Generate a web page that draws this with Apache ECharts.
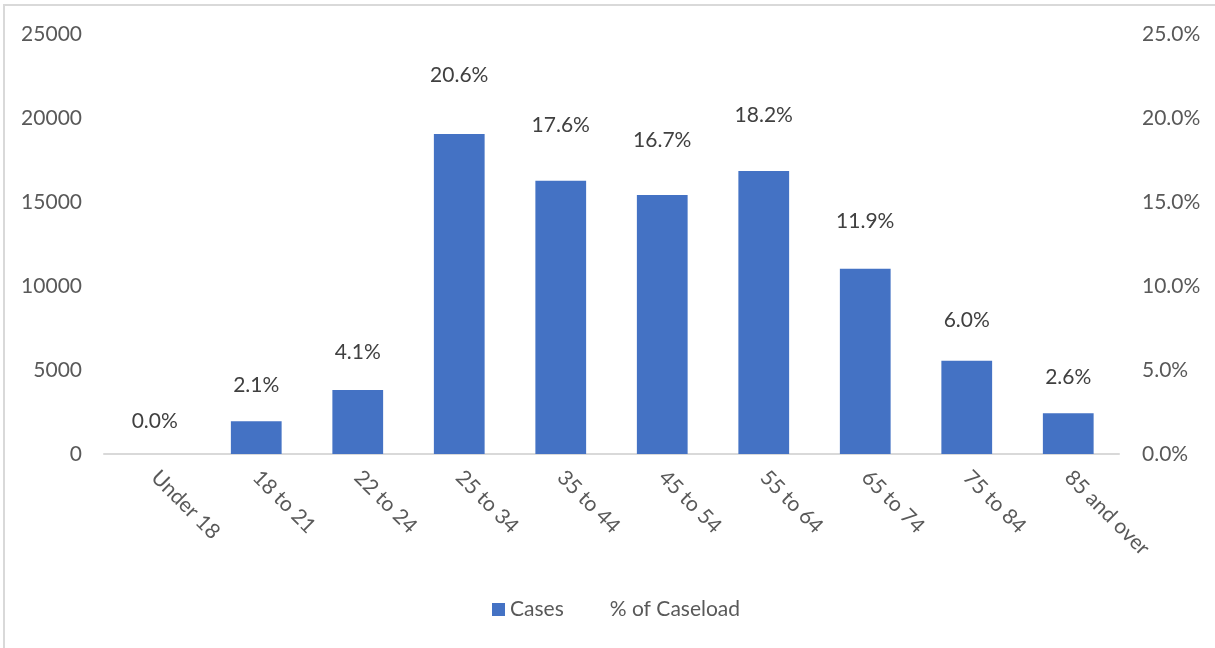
<!DOCTYPE html>
<html>
<head>
<meta charset="utf-8">
<script src="https://cdn.jsdelivr.net/npm/echarts@6/dist/echarts.min.js"></script>
<style>
  html, body { margin: 0; padding: 0; background: #ffffff; overflow: hidden; }
  #frame { position: absolute; left: 3px; top: 4px; width: 1220px; height: 660px;
           border: 2px solid #d9d9d9; box-sizing: border-box; }
  #chart { position: absolute; left: 0; top: 0; width: 1215px; height: 648px; }
</style>
</head>
<body>
<div id="frame"></div>
<div id="chart"></div>
<script>
// Age groups on the category axis
const categories = ['Under 18', '18 to 21', '22 to 24', '25 to 34', '35 to 44',
                    '45 to 54', '55 to 64', '65 to 74', '75 to 84', '85 and over'];
// Number of cases per age group (left axis)
const cases = [0, 1950, 3810, 19050, 16270, 15420, 16840, 11030, 5550, 2430];
// Share of the total caseload, in percent (right axis)
const caseloadPct = [0.0, 2.1, 4.1, 20.6, 17.6, 16.7, 18.2, 11.9, 6.0, 2.6];

const FONT = 'Lato, "Open Sans", sans-serif';
const FONT_SIZE = 21;
const AXIS_GREY = '#595959';

const chart = echarts.init(document.getElementById('chart'), null, { renderer: 'canvas' });

chart.setOption({
  animation: false,
  textStyle: { fontFamily: FONT },
  grid: { left: 104, right: 96, top: 34, bottom: 194, containLabel: false },
  legend: {
    bottom: 23,
    left: 487,
    itemWidth: 13,
    itemHeight: 13,
    itemGap: 28,
    textStyle: { fontFamily: FONT, fontSize: FONT_SIZE, color: AXIS_GREY },
    data: [
      { name: 'Cases', icon: 'rect' },
      { name: '% of Caseload', icon: 'rect', itemStyle: { opacity: 0 } }
    ]
  },
  xAxis: {
    type: 'category',
    data: categories,
    axisLine: { show: true, lineStyle: { color: '#d9d9d9', width: 2 } },
    axisTick: { show: false },
    axisLabel: {
      interval: 0,
      rotate: -45,
      margin: 20,
      fontFamily: FONT,
      fontSize: FONT_SIZE,
      color: AXIS_GREY
    }
  },
  yAxis: [
    {
      type: 'value',
      min: 0,
      max: 25000,
      interval: 5000,
      axisLine: { show: false },
      axisTick: { show: false },
      splitLine: { show: false },
      axisLabel: {
        margin: 22, fontFamily: FONT, fontSize: FONT_SIZE, color: AXIS_GREY,
        formatter: v => String(v)
      }
    },
    {
      type: 'value',
      min: 0,
      max: 25,
      interval: 5,
      position: 'right',
      axisLine: { show: false },
      axisTick: { show: false },
      splitLine: { show: false },
      axisLabel: {
        margin: 23,
        fontFamily: FONT,
        fontSize: FONT_SIZE,
        color: AXIS_GREY,
        formatter: v => v.toFixed(1) + '%'
      }
    }
  ],
  series: [
    {
      name: 'Cases',
      type: 'bar',
      yAxisIndex: 0,
      data: cases,
      barWidth: '50%',
      itemStyle: { color: '#4472c4' }
    },
    {
      name: '% of Caseload',
      type: 'line',
      yAxisIndex: 1,
      data: caseloadPct,
      symbol: 'circle',
      symbolSize: 1,
      showSymbol: true,
      lineStyle: { opacity: 0 },
      itemStyle: { color: 'rgba(0,0,0,0)' },
      z: 5,
      label: {
        show: true,
        position: 'top',
        distance: 22,
        fontFamily: FONT,
        fontSize: FONT_SIZE,
        color: '#404040',
        formatter: p => p.value.toFixed(1) + '%'
      }
    }
  ]
});
</script>
</body>
</html>
